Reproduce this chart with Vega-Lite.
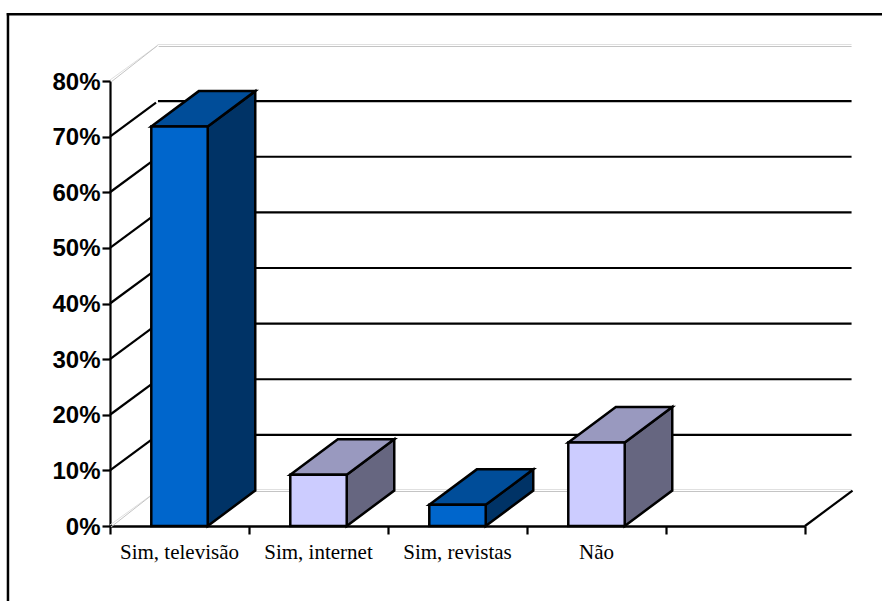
{
  "$schema": "https://vega.github.io/schema/vega-lite/v6.json",
  "width": 695,
  "height": 445,
  "autosize": "none",
  "padding": {"left": 110, "top": 81, "right": 77, "bottom": 75},
  "background": "white",
  "config": {"view": {"stroke": null}},
  "datasets": {
    "answers": [
      {"category": "Sim, televisão", "share": 71.8, "slot": 0},
      {"category": "Sim, internet", "share": 9.2, "slot": 1},
      {"category": "Sim, revistas", "share": 3.8, "slot": 2},
      {"category": "Não", "share": 15, "slot": 3}
    ],
    "innerLevels": [{"level": 10}, {"level": 20}, {"level": 30}, {"level": 40}, {"level": 50}, {"level": 60}, {"level": 70}],
    "outerLevels": [{"level": 0}, {"level": 80}],
    "single": [{"row": 1}]
  },
  "resolve": {"scale": {"fill": "independent"}},
  "layer": [
    {
      "description": "Open frame around the chart",
      "data": {"name": "single"},
      "mark": {"type": "rule", "stroke": "black", "strokeWidth": 2.5, "strokeCap": "square"},
      "encoding": {"x": {"datum": -0.734, "type": "quantitative"}, "x2": {"datum": 5.56}, "y": {"datum": 92, "type": "quantitative"}}
    },
    {
      "data": {"name": "single"},
      "mark": {"type": "rule", "stroke": "black", "strokeWidth": 2.5, "strokeCap": "square"},
      "encoding": {"x": {"datum": -0.734, "type": "quantitative"}, "y": {"datum": 92, "type": "quantitative"}, "y2": {"datum": -13.6}}
    },
    {
      "description": "Side-wall grid, light top and floor edges",
      "data": {"name": "outerLevels"},
      "transform": [{"calculate": "datum.level + 6.38", "as": "back"}],
      "mark": {"type": "rule", "stroke": "#e0e0e0", "strokeWidth": 1, "yOffset": -1},
      "encoding": {"x": {"datum": 0, "type": "quantitative"}, "x2": {"datum": 0.342}, "y": {"field": "level", "type": "quantitative"}, "y2": {"field": "back"}}
    },
    {
      "data": {"name": "outerLevels"},
      "transform": [{"calculate": "datum.level + 6.38", "as": "back"}],
      "mark": {"type": "rule", "stroke": "#c4c4c4", "strokeWidth": 1, "xOffset": 1, "yOffset": 1},
      "encoding": {"x": {"datum": 0, "type": "quantitative"}, "x2": {"datum": 0.342}, "y": {"field": "level", "type": "quantitative"}, "y2": {"field": "back"}}
    },
    {
      "data": {"name": "outerLevels"},
      "transform": [{"calculate": "datum.level + 6.38", "as": "back"}],
      "mark": {"type": "rule", "stroke": "#e0e0e0", "strokeWidth": 1, "yOffset": -1},
      "encoding": {"x": {"datum": 0.342, "type": "quantitative"}, "x2": {"datum": 5.335}, "y": {"field": "back", "type": "quantitative"}}
    },
    {
      "data": {"name": "outerLevels"},
      "mark": {"type": "rule", "stroke": "#c4c4c4", "strokeWidth": 1, "yOffset": 1},
      "transform": [{"calculate": "datum.level + 6.38", "as": "back"}],
      "encoding": {"x": {"datum": 0.35, "type": "quantitative"}, "x2": {"datum": 5.335}, "y": {"field": "back", "type": "quantitative"}}
    },
    {
      "description": "Dark grid lines: diagonal on the side wall, horizontal on the back wall",
      "data": {"name": "innerLevels"},
      "transform": [{"calculate": "datum.level + 6.1", "as": "back"}],
      "mark": {"type": "rule", "stroke": "black", "strokeWidth": 2.2},
      "encoding": {"x": {"datum": 0, "type": "quantitative"}, "x2": {"datum": 0.331}, "y": {"field": "level", "type": "quantitative"}, "y2": {"field": "back"}}
    },
    {
      "data": {"name": "innerLevels"},
      "transform": [{"calculate": "datum.level + 6.38", "as": "back"}],
      "mark": {"type": "rule", "stroke": "black", "strokeWidth": 2.2},
      "encoding": {"x": {"datum": 0.345, "type": "quantitative"}, "x2": {"datum": 5.335}, "y": {"field": "back", "type": "quantitative"}}
    },
    {
      "description": "Floor edge on the right, running back from the last tick",
      "data": {"name": "single"},
      "mark": {"type": "rule", "stroke": "black", "strokeWidth": 2.2},
      "encoding": {"x": {"datum": 5, "type": "quantitative"}, "x2": {"datum": 5.342}, "y": {"datum": 0, "type": "quantitative"}, "y2": {"datum": 6.38}}
    },
    {
      "description": "Axes on the front edge of the box",
      "data": {"name": "single"},
      "mark": {"type": "rule", "opacity": 0},
      "encoding": {
        "x": {
          "datum": 0,
          "type": "quantitative",
          "scale": {"domain": [0, 5], "nice": false, "zero": false},
          "axis": {"values": [0, 1, 2, 3, 4, 5], "labels": false, "title": null, "grid": false, "tickSize": 8, "tickWidth": 2.2, "tickColor": "black", "domainWidth": 2.5, "domainColor": "black"}
        },
        "y": {
          "datum": 0,
          "type": "quantitative",
          "scale": {"domain": [0, 80], "nice": false, "zero": false},
          "axis": {
            "values": [0, 10, 20, 30, 40, 50, 60, 70, 80],
            "labelExpr": "datum.value + '%'",
            "title": null,
            "grid": false,
            "tickSize": 8,
            "tickWidth": 2.2,
            "tickColor": "black",
            "domainWidth": 2.2,
            "domainColor": "black",
            "labelFont": "Liberation Sans",
            "labelFontSize": 24,
            "labelFontWeight": "bold",
            "labelColor": "black",
            "labelPadding": 2,
            "labelOffset": 1
          }
        }
      }
    },
    {
      "description": "Right side of each box",
      "data": {"name": "answers"},
      "transform": [
        {"calculate": "[datum.slot + 0.703, datum.slot + 1.045]", "as": "xs"},
        {"calculate": "[0, 6.38]", "as": "lows"},
        {"calculate": "[datum.share, datum.share + 6.38]", "as": "highs"},
        {"flatten": ["xs", "lows", "highs"]}
      ],
      "mark": {"type": "area", "orient": "vertical", "stroke": "black", "strokeWidth": 2.5, "opacity": 1},
      "encoding": {
        "x": {"field": "xs", "type": "quantitative"},
        "y": {"field": "lows", "type": "quantitative"},
        "y2": {"field": "highs"},
        "fill": {
          "field": "category",
          "type": "nominal",
          "legend": null,
          "scale": {"domain": ["Sim, televisão", "Sim, internet", "Sim, revistas", "Não"], "range": ["#003366", "#666680", "#003366", "#666680"]}
        }
      }
    },
    {
      "description": "Top of each box",
      "data": {"name": "answers"},
      "transform": [
        {"calculate": "[datum.slot + 0.297, datum.slot + 0.639, datum.slot + 0.703, datum.slot + 1.045]", "as": "xs"},
        {"calculate": "[datum.share, datum.share, datum.share, datum.share + 6.38]", "as": "lows"},
        {"calculate": "[datum.share, datum.share + 6.38, datum.share + 6.38, datum.share + 6.38]", "as": "highs"},
        {"flatten": ["xs", "lows", "highs"]}
      ],
      "mark": {"type": "area", "orient": "vertical", "stroke": "black", "strokeWidth": 2.5, "opacity": 1},
      "encoding": {
        "x": {"field": "xs", "type": "quantitative"},
        "y": {"field": "lows", "type": "quantitative"},
        "y2": {"field": "highs"},
        "fill": {
          "field": "category",
          "type": "nominal",
          "legend": null,
          "scale": {"domain": ["Sim, televisão", "Sim, internet", "Sim, revistas", "Não"], "range": ["#004d99", "#9999bf", "#004d99", "#9999bf"]}
        }
      }
    },
    {
      "description": "Front of each box",
      "data": {"name": "answers"},
      "transform": [
        {"calculate": "datum.slot + 0.297", "as": "left"},
        {"calculate": "datum.slot + 0.703", "as": "right"}
      ],
      "mark": {"type": "rect", "stroke": "black", "strokeWidth": 2.5},
      "encoding": {
        "x": {"field": "left", "type": "quantitative"},
        "x2": {"field": "right"},
        "y": {"field": "share", "type": "quantitative"},
        "y2": {"datum": 0},
        "fill": {
          "field": "category",
          "type": "nominal",
          "legend": null,
          "scale": {"domain": ["Sim, televisão", "Sim, internet", "Sim, revistas", "Não"], "range": ["#0066cc", "#ccccff", "#0066cc", "#ccccff"]}
        }
      }
    },
    {
      "description": "Category names below the floor",
      "data": {"name": "answers"},
      "transform": [
        {"calculate": "datum.slot + 0.5", "as": "center"},
        {"calculate": "0", "as": "floor"}
      ],
      "mark": {"type": "text", "font": "Liberation Serif", "fontSize": 21, "color": "black", "align": "center", "baseline": "alphabetic", "dy": 33},
      "encoding": {
        "x": {"field": "center", "type": "quantitative"},
        "y": {"field": "floor", "type": "quantitative"},
        "text": {"field": "category"}
      }
    }
  ]
}
